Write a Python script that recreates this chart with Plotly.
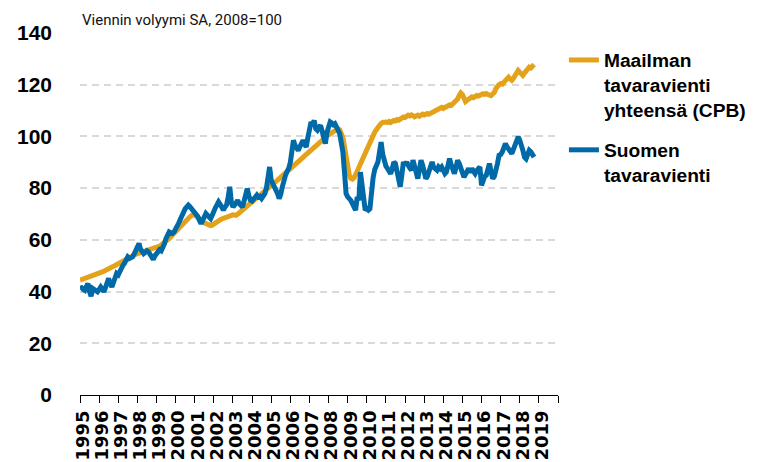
import pandas as pd
import plotly.graph_objects as go

# Monthly values, Jan 1995 - Oct 2018 (2008 = 100)
world_trade = [
    44.4, 44.6, 44.9, 45.1, 45.3, 45.6, 45.9, 46.0, 46.3, 46.5, 46.7, 47.0,
    47.1, 47.4, 47.6, 47.9, 48.3, 48.5, 48.9, 49.2, 49.4, 49.8, 50.1, 50.4,
    50.6, 50.9, 51.2, 51.5, 51.9, 52.3, 52.7, 53.1, 53.5, 53.8, 54.2, 54.4,
    54.5, 54.7, 54.9, 55.0, 55.3, 55.5, 55.6, 55.8, 56.0, 56.2, 56.5, 56.8,
    57.0, 57.3, 57.6, 58.0, 58.4, 58.8, 59.3, 59.9, 60.5, 61.2, 61.9, 62.6,
    63.1, 63.8, 64.5, 65.2, 65.8, 66.4, 67.0, 67.7, 68.3, 68.9, 69.4, 69.8,
    69.6, 69.2, 68.6, 68.0, 67.6, 67.1, 66.6, 66.2, 65.9, 65.6, 65.5, 65.7,
    66.0, 66.4, 66.8, 67.3, 67.7, 68.1, 68.4, 68.7, 69.0, 69.3, 69.5, 69.6,
    69.7, 69.6, 69.5, 69.9, 70.4, 70.9, 71.5, 72.0, 72.6, 73.2, 73.9, 74.5,
    75.0, 75.5, 76.0, 76.4, 76.8, 77.3, 77.8, 78.3, 78.8, 79.4, 79.9, 80.4,
    81.0, 81.5, 82.0, 82.6, 83.1, 83.7, 84.2, 84.8, 85.3, 85.9, 86.4, 87.0,
    87.5, 88.0, 88.6, 89.1, 89.7, 90.2, 90.7, 91.3, 91.9, 92.5, 93.1, 93.6,
    94.1, 94.6, 95.1, 95.6, 96.1, 96.7, 97.3, 97.9, 98.5, 99.1, 99.6, 100.1,
    100.6, 101.0, 101.5, 102.0, 102.4, 102.8, 103.0, 102.6, 101.5, 99.5, 96.0, 92.0,
    88.0, 85.0, 83.8, 83.5, 84.0, 85.0, 86.5, 88.0, 89.5, 91.0, 92.5, 94.0,
    95.3, 96.6, 98.0, 99.3, 100.5, 101.6, 102.6, 103.6, 104.4, 105.0, 105.4, 105.6,
    105.6, 105.4, 105.8, 105.4, 105.9, 106.2, 106.0, 106.5, 106.3, 106.8, 107.2, 107.5,
    107.3, 107.8, 108.2, 107.9, 108.3, 108.0, 107.6, 107.9, 108.2, 107.8, 108.3, 108.6,
    108.3, 108.6, 108.9, 108.6, 109.0, 109.3, 109.6, 110.0, 110.4, 110.7, 110.9, 111.2,
    110.8, 111.2, 111.5, 111.9, 112.2, 112.0, 112.6, 113.1, 113.6, 114.5, 115.8, 116.8,
    116.2, 115.0, 113.5, 114.0, 114.6, 115.0, 115.3, 115.0, 115.5, 115.8, 115.6, 116.0,
    116.2, 116.5, 116.3, 116.6, 116.2, 116.0, 115.8, 116.4, 117.0, 118.5, 119.5, 120.0,
    120.4, 120.2, 120.9, 121.6, 122.5, 122.9, 122.2, 121.7, 122.5, 123.4, 124.5, 125.5,
    124.8, 123.8, 123.6, 124.5, 125.5, 126.4, 126.8, 126.5, 127.2, 127.8,
]

finland_exports = [
    41.2, 41.5, 40.9, 40.5, 41.8, 43.1, 40.0, 38.2, 41.2, 40.8, 40.3, 39.9,
    40.8, 41.8, 41.0, 39.9, 41.5, 43.0, 45.1, 43.0, 41.8, 43.5, 45.2, 47.0,
    46.5, 48.0, 49.0, 50.2, 51.0, 52.2, 53.4, 52.8, 53.0, 53.4, 54.5, 55.8,
    57.0, 58.6, 56.5, 55.5, 54.7, 55.2, 55.8, 55.4, 54.0, 53.0, 52.4, 53.8,
    54.8, 55.4, 56.2, 55.8, 56.7, 58.5, 60.5, 62.0, 63.1, 62.8, 62.5, 63.0,
    64.0, 65.0, 66.5, 68.0, 69.5, 70.8, 72.0, 72.7, 73.4, 72.8, 72.1, 71.5,
    70.8, 70.2, 69.0, 67.5, 66.3, 67.5, 69.0, 70.2, 69.5, 68.8, 68.2, 69.5,
    71.5, 72.5, 73.5, 74.7, 73.8, 72.5, 71.5, 72.7, 73.5, 76.5, 80.5, 74.5,
    72.7, 73.5, 74.5, 75.3, 74.0, 73.0, 72.7, 75.0, 77.5, 79.8, 77.0, 75.3,
    75.0, 76.0, 76.8, 77.3, 76.5, 76.8, 76.0, 77.0, 77.9, 80.0, 84.5, 88.2,
    83.0, 81.7, 80.5, 79.8, 78.0, 76.0, 77.5, 80.5, 83.7, 85.0, 86.5, 87.6,
    90.0, 94.0, 98.5, 96.5, 95.5, 94.6, 96.0, 97.8, 98.5, 97.0, 95.9, 99.5,
    102.0, 105.6, 104.5, 106.2, 103.0, 102.4, 103.5, 104.3, 102.0, 99.0, 97.2, 101.5,
    104.0, 105.6, 105.2, 104.5, 104.9, 104.0, 102.4, 101.0, 97.5, 94.0, 86.0, 77.9,
    76.6, 76.0, 75.3, 74.0, 72.1, 71.5, 76.6, 75.3, 86.2, 80.0, 73.0, 71.5,
    72.1, 71.5, 72.0, 79.5, 84.0, 87.2, 88.5, 90.1, 94.0, 97.8, 93.0, 90.1,
    88.5, 87.6, 86.9, 85.6, 87.5, 90.1, 89.5, 86.9, 83.0, 80.5, 85.0, 90.1,
    89.0, 90.1, 88.8, 87.5, 86.9, 90.8, 88.5, 86.0, 83.7, 87.0, 90.8, 89.0,
    86.0, 83.7, 84.5, 87.0, 88.5, 90.1, 88.0, 87.2, 86.9, 88.2, 87.5, 88.2,
    87.0, 85.6, 86.2, 88.5, 91.4, 89.0, 87.0, 85.6, 88.0, 90.8, 89.5, 87.0,
    86.0, 84.3, 85.5, 86.5, 87.6, 86.0, 87.6, 86.5, 85.6, 86.8, 87.5, 88.2,
    81.1, 83.0, 84.5, 85.0, 87.0, 89.5, 86.5, 83.7, 84.5, 86.5, 89.5, 92.7,
    93.0, 94.0, 95.5, 97.2, 96.0, 95.0, 94.6, 93.4, 95.0, 96.5, 98.0, 99.8,
    98.5, 97.0, 94.6, 92.0, 91.4, 93.0, 94.6, 94.0, 92.7, 92.0,
]

years = list(range(1995, 2020))
year_labels = [str(y) for y in years]

series_names = ["Maailman<br>tavaravienti<br>yhteensä (CPB)", "Suomen<br>tavaravienti"]
title_text = "Viennin volyymi SA, 2008=100"

months = pd.date_range("1995-01-01", periods=len(world_trade), freq="MS")

ORANGE = "#E3A21A"
BLUE = "#0069A8"
FONT = "Liberation Sans"

fig = go.Figure()
fig.add_trace(go.Scatter(x=months, y=world_trade, mode="lines", name=series_names[0],
                         line=dict(color=ORANGE, width=5), legendgroup="a"))
fig.add_trace(go.Scatter(x=months, y=finland_exports, mode="lines", name=series_names[1],
                         line=dict(color=BLUE, width=5), legendgroup="b"))

tick_dates = [f"{y}-01-01" for y in years] + ["2020-01-01"]
tick_text = year_labels + [""]

fig.update_xaxes(
    type="date",
    range=["1995-01-01", "2020-01-01"],
    tickmode="array",
    tickvals=tick_dates,
    ticktext=tick_text,
    tickangle=-90,
    ticks="outside",
    ticklen=7,
    tickwidth=1.3,
    tickcolor="#000",
    showline=True,
    linecolor="#000",
    linewidth=1.3,
    showgrid=False,
    ticklabelshift=3,
    automargin=False,
    tickfont=dict(family="DejaVu Sans", size=18, color="#000", weight="bold"),
)
fig.update_yaxes(
    range=[0, 140],
    dtick=20,
    tick0=0,
    showgrid=True,
    gridcolor="#d9d9d9",
    gridwidth=1.5,
    griddash="7px,5px",
    zeroline=False,
    showline=False,
    ticks="",
    ticklabelstandoff=27,
    automargin=False,
    tickfont=dict(family=FONT, size=21, color="#000", weight="bold"),
)

fig.add_annotation(
    text=title_text, xref="paper", yref="paper", x=0, y=1, yshift=2,
    xanchor="left", yanchor="bottom", showarrow=False,
    font=dict(family="Roboto", size=15, color="#111"),
)

# The page body adds an 8 px offset; the figure is sized to fill the rest of the window.
fig.update_layout(
    width=755, height=454,
    margin=dict(l=72, r=201, t=25, b=67),
    paper_bgcolor="white", plot_bgcolor="white",
    showlegend=True,
    legend=dict(
        x=1.0124, xanchor="left", y=0.978, yanchor="top",
        font=dict(family=FONT, size=19.2, color="#000", weight="bold"),
        valign="top", tracegroupgap=12, bgcolor="rgba(0,0,0,0)",
    ),
    hovermode=False,
)

fig.write_html("out.html")
